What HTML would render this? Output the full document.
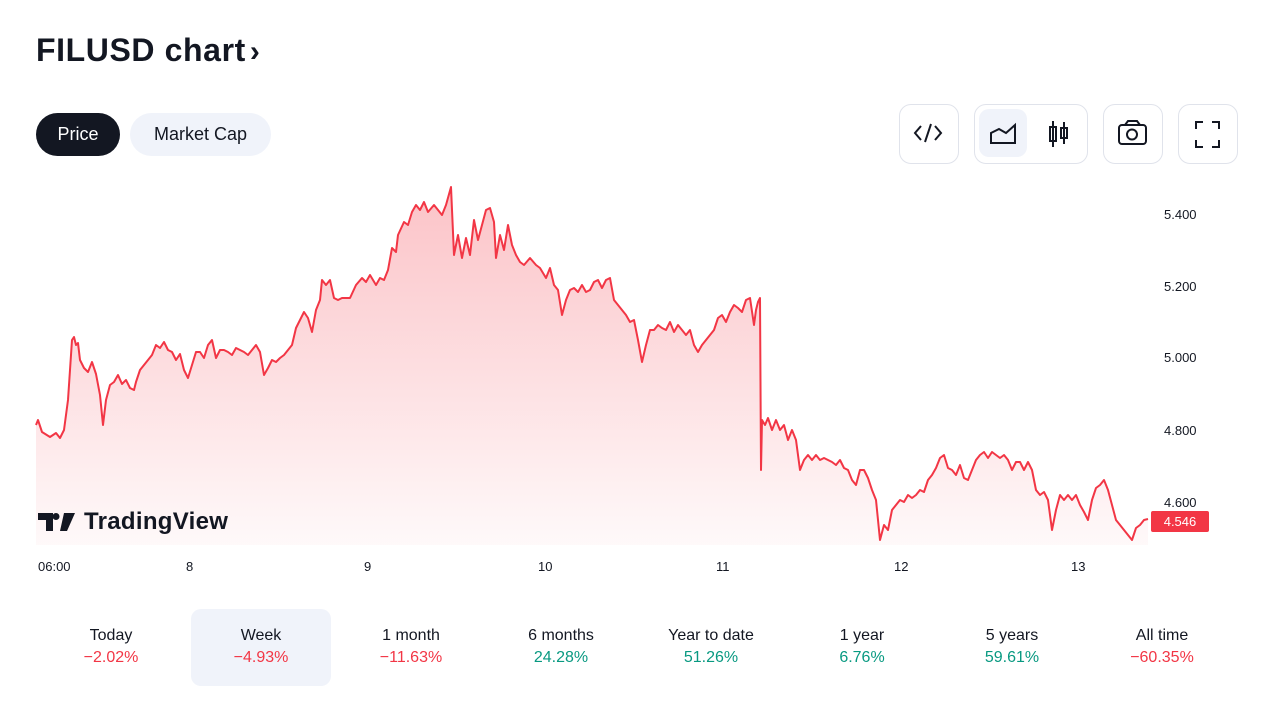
<!DOCTYPE html><html><head><meta charset="utf-8"><style>
body{margin:0;width:1280px;height:720px;background:#fff;font-family:"Liberation Sans",sans-serif;color:#131722;position:relative;overflow:hidden}
.a{position:absolute}
.btn{position:absolute;border:1px solid #e0e3eb;border-radius:12px;background:#fff}
.tab{position:absolute;top:609px;width:140px;height:77px;text-align:center;font-size:16px;border-radius:10px}
.tab div:first-child{margin-top:18px;margin-bottom:4px}
.r{color:#f23645}.g{color:#089981}
.yl{position:absolute;left:1164px;font-size:13px;color:#131722}
.xl{position:absolute;top:559px;font-size:13px;color:#131722}
</style></head><body>
<div class="a" style="left:36px;top:32px;font-size:32px;font-weight:bold;letter-spacing:0.6px">FILUSD chart<span style="font-size:30px;margin-left:4px">›</span></div>
<div class="a" style="left:36px;top:113px;width:84px;height:43px;background:#131722;color:#fff;border-radius:22px;font-size:18px;text-align:center;line-height:43px">Price</div>
<div class="a" style="left:130px;top:113px;width:141px;height:43px;background:#f0f3fa;border-radius:22px;font-size:18px;text-align:center;line-height:43px">Market Cap</div>
<div class="btn" style="left:899px;top:104px;width:58px;height:58px"></div>
<div class="btn" style="left:974px;top:104px;width:112px;height:58px"></div>
<div class="a" style="left:979px;top:109px;width:48px;height:48px;background:#f0f3fa;border-radius:10px"></div>
<div class="btn" style="left:1103px;top:104px;width:58px;height:58px"></div>
<div class="btn" style="left:1178px;top:104px;width:58px;height:58px"></div>
<svg class="a" style="left:0;top:0" width="1280" height="720" fill="none" stroke="#131722" stroke-width="2">
<path d="M921 126l-6 7 6 7M935 126l6 7-6 7M931 124l-6 18"/>
<path d="M991 143v-10l8-4 7 4 9-8v18z"/>
<path d="M1053 121v26M1050 127h6v14h-6zM1064 122v22M1061 128h6v10h-6z"/>
<rect x="1119" y="125" width="27" height="19" rx="3"/><path d="M1125 125l3-4h9l3 4"/><circle cx="1132" cy="134.5" r="5"/>
<path d="M1196 129v-7h7M1212 122h7v7M1219 140v7h-7M1203 147h-7v-7"/>
<defs><linearGradient id="gr" x1="0" y1="0" x2="0" y2="1"><stop offset="0" stop-color="#f23645" stop-opacity=".3"/><stop offset="1" stop-color="#f23645" stop-opacity=".03"/></linearGradient></defs>
<path id="p" fill="url(#gr)" stroke="none" d="M36 425L38 420L42 432L50 437L56 433L60 438L64 430L68 400L72 340L74 337L76 345L78 343L80 360L84 368L88 372L92 362L96 374L100 395L103 425L106 400L110 385L114 382L118 375L122 384L126 380L130 388L134 390L136 382L140 370L144 365L148 360L152 355L156 345L160 348L164 342L168 350L172 352L176 360L180 354L184 370L188 378L192 365L196 352L200 352L204 358L208 345L212 340L216 358L220 350L224 350L228 352L232 355L236 348L240 350L244 352L248 355L252 350L256 345L260 352L264 375L268 368L272 360L276 362L280 358L284 355L288 350L292 345L296 328L300 320L304 312L308 318L312 332L316 310L320 300L322 280L326 285L330 280L334 298L338 300L342 298L346 298L350 298L356 285L362 278L366 282L370 275L376 285L380 278L384 280L388 270L392 248L396 252L398 235L404 222L408 225L412 212L416 205L420 210L424 202L428 212L434 205L438 210L442 215L446 205L451 187L454 255L458 235L462 258L466 238L470 255L474 220L478 240L482 225L486 210L490 208L494 222L496 258L500 235L504 250L508 225L512 245L516 255L520 262L524 265L530 258L536 265L540 268L546 278L550 268L554 285L558 290L562 315L566 300L570 290L574 288L578 292L582 285L586 292L590 290L594 282L598 280L602 288L606 280L610 278L614 300L618 305L622 310L626 315L630 322L634 320L638 340L642 362L646 345L650 330L654 330L658 325L662 328L666 330L670 322L674 332L678 325L682 330L686 335L690 330L694 345L698 352L702 345L706 340L710 335L714 330L718 318L722 315L726 322L730 312L734 305L738 308L742 312L746 300L750 298L754 325L756 310L758 302L760 298L761 470L762 420L765 425L768 418L772 430L776 420L780 430L784 425L788 440L792 430L796 440L800 470L804 460L808 455L812 460L816 455L820 460L824 458L828 460L832 462L836 465L840 460L844 468L848 470L852 480L856 485L860 470L864 470L868 478L872 490L876 500L880 540L884 525L888 530L892 510L896 505L900 500L904 502L908 495L912 498L916 495L920 490L924 492L928 480L932 475L936 468L940 458L944 455L948 468L952 470L956 475L960 465L964 478L968 480L972 470L976 460L980 455L984 452L988 458L992 452L996 455L1000 458L1004 455L1008 460L1012 470L1016 462L1020 462L1024 470L1028 462L1032 470L1036 490L1040 495L1044 492L1048 500L1052 530L1056 510L1060 495L1064 500L1068 495L1072 500L1076 495L1080 505L1084 512L1088 520L1092 500L1096 488L1100 485L1104 480L1108 490L1112 505L1116 520L1120 525L1124 530L1128 535L1132 540L1136 528L1140 525L1144 520L1148 519L1148 545L36 545Z"/>
<polyline stroke="#f23645" stroke-width="2" stroke-linejoin="round" points="36,425 38,420 42,432 50,437 56,433 60,438 64,430 68,400 72,340 74,337 76,345 78,343 80,360 84,368 88,372 92,362 96,374 100,395 103,425 106,400 110,385 114,382 118,375 122,384 126,380 130,388 134,390 136,382 140,370 144,365 148,360 152,355 156,345 160,348 164,342 168,350 172,352 176,360 180,354 184,370 188,378 192,365 196,352 200,352 204,358 208,345 212,340 216,358 220,350 224,350 228,352 232,355 236,348 240,350 244,352 248,355 252,350 256,345 260,352 264,375 268,368 272,360 276,362 280,358 284,355 288,350 292,345 296,328 300,320 304,312 308,318 312,332 316,310 320,300 322,280 326,285 330,280 334,298 338,300 342,298 346,298 350,298 356,285 362,278 366,282 370,275 376,285 380,278 384,280 388,270 392,248 396,252 398,235 404,222 408,225 412,212 416,205 420,210 424,202 428,212 434,205 438,210 442,215 446,205 451,187 454,255 458,235 462,258 466,238 470,255 474,220 478,240 482,225 486,210 490,208 494,222 496,258 500,235 504,250 508,225 512,245 516,255 520,262 524,265 530,258 536,265 540,268 546,278 550,268 554,285 558,290 562,315 566,300 570,290 574,288 578,292 582,285 586,292 590,290 594,282 598,280 602,288 606,280 610,278 614,300 618,305 622,310 626,315 630,322 634,320 638,340 642,362 646,345 650,330 654,330 658,325 662,328 666,330 670,322 674,332 678,325 682,330 686,335 690,330 694,345 698,352 702,345 706,340 710,335 714,330 718,318 722,315 726,322 730,312 734,305 738,308 742,312 746,300 750,298 754,325 756,310 758,302 760,298 761,470 762,420 765,425 768,418 772,430 776,420 780,430 784,425 788,440 792,430 796,440 800,470 804,460 808,455 812,460 816,455 820,460 824,458 828,460 832,462 836,465 840,460 844,468 848,470 852,480 856,485 860,470 864,470 868,478 872,490 876,500 880,540 884,525 888,530 892,510 896,505 900,500 904,502 908,495 912,498 916,495 920,490 924,492 928,480 932,475 936,468 940,458 944,455 948,468 952,470 956,475 960,465 964,478 968,480 972,470 976,460 980,455 984,452 988,458 992,452 996,455 1000,458 1004,455 1008,460 1012,470 1016,462 1020,462 1024,470 1028,462 1032,470 1036,490 1040,495 1044,492 1048,500 1052,530 1056,510 1060,495 1064,500 1068,495 1072,500 1076,495 1080,505 1084,512 1088,520 1092,500 1096,488 1100,485 1104,480 1108,490 1112,505 1116,520 1120,525 1124,530 1128,535 1132,540 1136,528 1140,525 1144,520 1148,519"/>
<path stroke="none" fill="#131722" d="M38 513h15v18h-7v-11h-8zM56 513a3.5 3.5 0 1 1 0 7a3.5 3.5 0 1 1 0-7zM64 513h11l-8 18h-7z"/>
</svg>
<div class="a" style="left:84px;top:508px;font-size:24px;font-weight:bold;color:#131722;letter-spacing:0.3px">TradingView</div>
<div class="yl" style="top:207px">5.400</div>
<div class="yl" style="top:279px">5.200</div>
<div class="yl" style="top:350px">5.000</div>
<div class="yl" style="top:423px">4.800</div>
<div class="yl" style="top:495px">4.600</div>
<div class="a" style="left:1151px;top:511px;width:58px;height:21px;background:#f23645;color:#fff;font-size:13px;line-height:21px;border-radius:2px;text-align:center">4.546</div>
<div class="xl" style="left:38px">06:00</div>
<div class="xl" style="left:186px">8</div>
<div class="xl" style="left:364px">9</div>
<div class="xl" style="left:538px">10</div>
<div class="xl" style="left:716px">11</div>
<div class="xl" style="left:894px">12</div>
<div class="xl" style="left:1071px">13</div>
<div class="tab" style="left:41px"><div>Today</div><div class="r">−2.02%</div></div>
<div class="tab" style="left:191px;background:#f0f3fa"><div>Week</div><div class="r">−4.93%</div></div>
<div class="tab" style="left:341px"><div>1 month</div><div class="r">−11.63%</div></div>
<div class="tab" style="left:491px"><div>6 months</div><div class="g">24.28%</div></div>
<div class="tab" style="left:641px"><div>Year to date</div><div class="g">51.26%</div></div>
<div class="tab" style="left:792px"><div>1 year</div><div class="g">6.76%</div></div>
<div class="tab" style="left:942px"><div>5 years</div><div class="g">59.61%</div></div>
<div class="tab" style="left:1092px"><div>All time</div><div class="r">−60.35%</div></div>
</body></html>
